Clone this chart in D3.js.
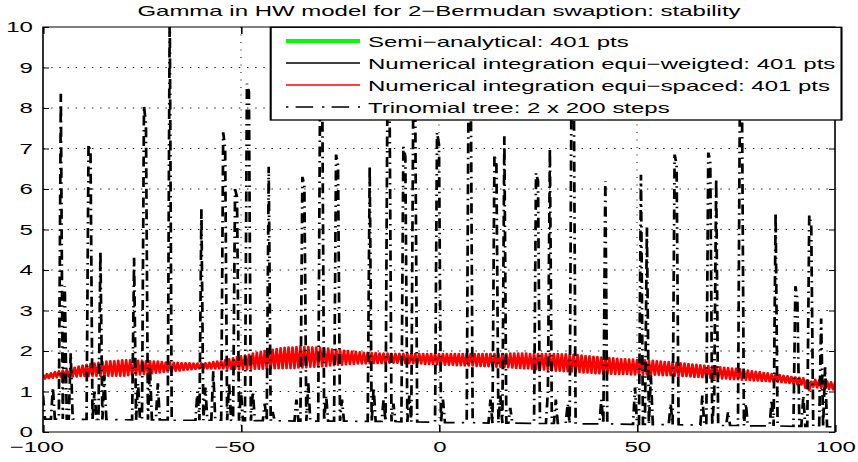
<!DOCTYPE html>
<html>
<head>
<meta charset="utf-8">
<script src="https://cdn.jsdelivr.net/npm/d3@7"></script>
<style>
  html, body { margin: 0; padding: 0; background: #fff; }
  svg { display: block; font-family: "Liberation Sans", Arial, Helvetica, sans-serif; }
</style>
</head>
<body>
<svg id="chart" width="858" height="462"></svg>
<script>
// ---- data -------------------------------------------------------------
const titleText = "Gamma in HW model for 2\u2212Bermudan swaption: stability";
const xTicks = [-100, -50, 0, 50, 100];
const yTicks = [0, 1, 2, 3, 4, 5, 6, 7, 8, 9, 10];

const seriesNames = [
  "Semi\u2212analytical: 401 pts",
  "Numerical integration equi\u2212weigted: 401 pts",
  "Numerical integration equi\u2212spaced: 401 pts",
  "Trinomial tree: 2 x 200 steps"
];

// smooth reference curves, sampled every 5 units of shift
const smoothX = [-100,-95,-90,-85,-80,-75,-70,-65,-60,-55,-50,-45,-40,-35,-30,-25,-20,-15,-10,-5,
                 0,5,10,15,20,25,30,35,40,45,50,55,60,65,70,75,80,85,90,95,100];
const semiAnalytical = [1.36,1.44,1.51,1.56,1.58,1.59,1.60,1.61,1.63,1.66,1.71,1.77,1.82,1.85,1.85,1.84,1.83,1.82,1.82,1.81,
                        1.80,1.79,1.78,1.77,1.76,1.74,1.72,1.69,1.65,1.62,1.60,1.58,1.55,1.51,1.47,1.43,1.38,1.33,1.27,1.20,1.13];
const equiWeighted = [1.35,1.43,1.50,1.55,1.57,1.59,1.60,1.61,1.63,1.66,1.70,1.76,1.81,1.84,1.85,1.84,1.83,1.82,1.82,1.81,
                      1.80,1.79,1.78,1.77,1.75,1.73,1.71,1.68,1.65,1.62,1.60,1.57,1.54,1.50,1.46,1.42,1.37,1.32,1.26,1.19,1.12];

// equi-spaced integration: 401 points on a 0.5 grid from -100 to 100
const equiSpacedX = d3.range(401).map(i => -100 + i * 0.5);
const equiSpaced = [
1.42,1.31,1.44,1.32,1.46,1.33,1.49,1.34,1.51,1.35,
1.53,1.35,1.55,1.36,1.58,1.36,1.60,1.36,1.63,1.37,
1.65,1.37,1.67,1.37,1.69,1.38,1.70,1.38,1.72,1.38,
1.74,1.38,1.75,1.38,1.76,1.38,1.76,1.38,1.77,1.38,
1.78,1.38,1.78,1.39,1.78,1.40,1.77,1.40,1.77,1.41,
1.77,1.42,1.76,1.43,1.76,1.44,1.75,1.45,1.75,1.46,
1.74,1.47,1.73,1.48,1.73,1.49,1.72,1.50,1.72,1.51,
1.71,1.52,1.71,1.53,1.71,1.54,1.70,1.55,1.70,1.56,
1.70,1.56,1.71,1.56,1.72,1.56,1.74,1.56,1.75,1.56,
1.76,1.56,1.78,1.55,1.81,1.55,1.83,1.55,1.86,1.54,
1.88,1.54,1.90,1.54,1.92,1.55,1.95,1.55,1.97,1.55,
1.99,1.55,2.01,1.55,2.03,1.56,2.04,1.56,2.06,1.56,
2.08,1.56,2.09,1.57,2.10,1.57,2.10,1.57,2.11,1.58,
2.12,1.58,2.11,1.59,2.11,1.60,2.10,1.60,2.10,1.61,
2.09,1.61,2.08,1.62,2.07,1.63,2.05,1.64,2.04,1.65,
2.03,1.65,2.02,1.66,2.01,1.67,2.00,1.67,1.99,1.68,
1.98,1.68,1.97,1.68,1.97,1.69,1.96,1.69,1.96,1.69,
1.95,1.69,1.95,1.69,1.95,1.70,1.94,1.70,1.94,1.70,
1.94,1.70,1.94,1.69,1.94,1.69,1.94,1.69,1.94,1.68,
1.94,1.68,1.94,1.67,1.94,1.67,1.94,1.67,1.94,1.66,
1.94,1.66,1.94,1.65,1.94,1.65,1.94,1.65,1.94,1.64,
1.94,1.64,1.94,1.63,1.94,1.63,1.94,1.63,1.94,1.62,
1.94,1.62,1.94,1.61,1.94,1.61,1.94,1.61,1.94,1.60,
1.94,1.60,1.94,1.59,1.94,1.59,1.95,1.58,1.95,1.57,
1.95,1.57,1.95,1.56,1.95,1.56,1.94,1.55,1.94,1.54,
1.94,1.54,1.94,1.53,1.94,1.52,1.94,1.51,1.94,1.50,
1.94,1.50,1.93,1.49,1.93,1.49,1.92,1.48,1.92,1.47,
1.91,1.47,1.90,1.46,1.89,1.46,1.88,1.45,1.87,1.44,
1.86,1.44,1.85,1.43,1.84,1.43,1.84,1.43,1.83,1.42,
1.82,1.42,1.81,1.42,1.81,1.42,1.80,1.41,1.80,1.41,
1.79,1.41,1.78,1.41,1.78,1.41,1.77,1.40,1.77,1.40,
1.76,1.40,1.75,1.39,1.74,1.39,1.74,1.39,1.73,1.38,
1.72,1.38,1.71,1.37,1.70,1.37,1.69,1.36,1.68,1.35,
1.67,1.35,1.66,1.34,1.65,1.34,1.64,1.33,1.63,1.32,
1.62,1.32,1.61,1.31,1.60,1.31,1.59,1.30,1.58,1.29,
1.57,1.29,1.56,1.28,1.54,1.28,1.53,1.27,1.51,1.26,
1.50,1.26,1.49,1.25,1.47,1.25,1.46,1.24,1.44,1.23,
1.43,1.23,1.42,1.22,1.40,1.21,1.39,1.20,1.37,1.19,
1.36,1.17,1.35,1.16,1.34,1.08,1.28,1.02,1.25,1.11,
1.30,1.09,1.29,1.08,1.27,1.07,1.26,1.05,1.24,1.04,
1.23];

// trinomial tree gamma (shift, gamma)
const treeX = [-100,-99.5,-98,-97.5,-97,-96,-95.5,-95,-94.5,-94,-93.5,-93,-92.5,-89,-88.5,-88,-87.5,-87,-86.5,-86,
  -85.5,-85,-84.5,-84,-77.5,-77,-76.5,-76,-75.5,-75,-74.5,-74,-73.5,-73,-72.5,-71.5,-71,-70.5,-68.5,-68,
  -67.5,-61.5,-61,-60.5,-60,-59.5,-59,-58.5,-57.5,-57,-56.5,-55,-54.5,-54,-53.5,-53,-52.5,-52,-51.5,-51,
  -50.5,-50,-49.5,-49,-48.5,-48,-47.5,-47,-46.5,-44.5,-44,-43.5,-43,-42.5,-42,-41.5,-36.5,-36,-35.5,-35,
  -34.5,-34,-33.5,-33,-32.5,-30.5,-30,-29.5,-29,-28.5,-28,-26.5,-26,-25.5,-25,-24.5,-24,-18,-17.5,-17,
  -16.5,-16,-14.5,-14,-13.5,-13,-12.5,-12,-11.5,-11,-9.5,-9,-8.5,-8,-7.5,-7,-6.5,-6,-5.5,-1,
  -0.5,0,0.5,1,1.5,7,7.5,8,8.5,12.5,13,13.5,14,14.5,15,15.5,16,16.5,17,17.5,
  18,18.5,24,24.5,25,25.5,27,27.5,28,28.5,29,29.5,30,32,32.5,33,33.5,34,34.5,40.5,
  41,41.5,42,42.5,49,49.5,50,50.5,51,51.5,52,52.5,53,53.5,54,58,58.5,59,59.5,60,
  60.5,66,66.5,67,67.5,68,68.5,69,69.5,70,70.5,72.5,73,73.5,75.5,76,76.5,77,77.5,78,
  83.5,84,84.5,85,85.5,89.5,90,90.5,91,91.5,92,92.5,93,93.5,94,94.5,96,96.5,97,97.5,
  98,100];
const treeY = [0.9,0.32,0.32,1.1,0.32,0.32,8.35,0.32,3.6,0.32,0.32,1.95,0.32,0.31,7.1,6.9,0.31,1.0,0.31,0.31,
  4.45,0.31,1.4,0.31,0.3,4.3,0.3,1.2,0.3,0.3,8.05,7.6,0.3,1.6,0.3,0.3,1.2,0.3,0.3,10.5,
  0.29,0.29,1.0,0.29,5.5,0.29,1.1,0.29,0.29,1.5,0.29,0.29,7.4,7.0,0.29,1.2,0.29,0.29,6.0,5.8,
  0.28,1.0,0.28,0.28,8.6,8.4,0.28,1.0,0.28,0.28,0.7,0.28,6.55,0.28,0.5,0.28,0.27,0.8,0.27,0.27,
  6.3,6.1,0.27,1.2,0.27,0.27,9.0,8.7,0.27,0.9,0.27,0.27,6.85,6.6,0.27,0.8,0.27,0.26,6.55,0.26,
  1.1,0.26,0.26,0.8,0.26,8.8,8.5,0.26,0.7,0.26,0.25,7.05,6.8,0.25,0.9,0.25,8.2,8.0,0.25,0.24,
  7.4,7.1,0.24,0.8,0.23,0.23,9.3,9.1,0.23,0.22,0.8,0.22,6.85,6.6,0.22,0.9,0.22,7.3,0.22,0.22,
  0.6,0.22,0.21,6.4,6.2,0.21,0.21,1.0,7.0,0.21,0.21,0.8,0.21,0.21,0.7,0.2,9.6,9.4,0.2,0.2,
  0.8,0.2,6.2,0.2,0.19,1.1,0.19,0.19,6.35,0.19,0.19,5.05,0.19,1.4,0.18,0.18,0.7,0.18,6.85,6.6,
  0.18,0.17,0.9,0.17,0.17,6.9,6.7,0.17,0.9,6.25,0.16,0.16,0.5,0.16,0.16,8.6,8.4,0.16,0.7,0.15,
  0.15,0.8,0.15,5.4,0.15,0.14,3.6,3.3,0.14,0.14,0.9,0.14,0.14,5.35,5.1,0.13,0.13,2.8,0.13,1.6,
  0.13,0.13];

// ---- layout -------------------------------------------------------------
// the figure is drawn in a narrow frame and widened horizontally
const S = 1.6;
const fontSize = 15;
const plot = { left: 43 / S, right: 835 / S, top: 27, bottom: 432 };

const svg = d3.select("#chart");
const root = svg.append("g").attr("transform", `scale(${S},1)`);

const x = d3.scaleLinear().domain([-100, 100]).range([plot.left, plot.right]);
const y = d3.scaleLinear().domain([0, 10]).range([plot.bottom, plot.top]);

root.append("defs").append("clipPath").attr("id", "plot-clip")
  .append("rect")
  .attr("x", plot.left).attr("y", plot.top)
  .attr("width", plot.right - plot.left).attr("height", plot.bottom - plot.top);

// ---- grid -------------------------------------------------------------
const grid = root.append("g").attr("stroke", "#222").attr("fill", "none");
grid.selectAll("line.h").data(yTicks.slice(1, -1)).join("line")
  .attr("class", "h")
  .attr("x1", plot.left).attr("x2", plot.right)
  .attr("y1", d => y(d)).attr("y2", d => y(d))
  .attr("stroke-width", 0.9)
  .attr("stroke-dasharray", "0.9,4.2");
grid.selectAll("line.v").data(xTicks.slice(1, -1)).join("line")
  .attr("class", "v")
  .attr("x1", d => x(d)).attr("x2", d => x(d))
  .attr("y1", plot.top).attr("y2", plot.bottom)
  .attr("stroke-width", 0.7)
  .attr("stroke-dasharray", "1,6.5");

// ---- series -------------------------------------------------------------
const layer = root.append("g").attr("clip-path", "url(#plot-clip)").attr("fill", "none");

const smoothLine = d3.line().x((d, i) => x(smoothX[i])).y(d => y(d)).curve(d3.curveMonotoneX);

layer.append("path").datum(semiAnalytical)
  .attr("d", smoothLine)
  .attr("stroke", "#00ff00").attr("stroke-width", 4);

layer.append("path").datum(equiWeighted)
  .attr("d", smoothLine)
  .attr("stroke", "#000").attr("stroke-width", 1.2);

layer.append("path").datum(equiSpaced)
  .attr("d", d3.line().x((d, i) => x(equiSpacedX[i])).y(d => y(d)))
  .attr("stroke", "#ff0000").attr("stroke-width", 1.6).attr("stroke-linejoin", "round");

layer.append("path").datum(treeY)
  .attr("d", d3.line().x((d, i) => x(treeX[i])).y(d => y(d)))
  .attr("stroke", "#000").attr("stroke-width", 1.7)
  .attr("stroke-dasharray", "10,4.5,1.5,4.5");

// ---- axes -------------------------------------------------------------
function styleAxis(g) {
  g.select(".domain").remove();
  g.selectAll(".tick line").attr("stroke", "#000").attr("stroke-width", 1);
  g.selectAll(".tick text")
    .attr("font-family", '"Liberation Sans", Arial, Helvetica, sans-serif')
    .attr("font-size", fontSize).attr("fill", "#000");
}

const xAxis = root.append("g")
  .attr("transform", `translate(0,${plot.bottom})`)
  .call(d3.axisBottom(x).tickValues(xTicks).tickSizeInner(-7).tickSizeOuter(0).tickPadding(9.5))
  .call(styleAxis);
xAxis.selectAll(".tick text").attr("dx", d => d < 0 ? -4.4 : 0);

root.append("g")
  .attr("transform", `translate(0,${plot.top})`)
  .call(d3.axisTop(x).tickValues(xTicks).tickSizeInner(-7).tickSizeOuter(0).tickFormat(""))
  .call(styleAxis);

root.append("g")
  .attr("transform", `translate(${plot.left},0)`)
  .call(d3.axisLeft(y).tickValues(yTicks).tickSizeInner(-3.75).tickSizeOuter(0).tickPadding(6.3)
        .tickFormat(d3.format("d")))
  .call(styleAxis);

root.append("g")
  .attr("transform", `translate(${plot.right},0)`)
  .call(d3.axisRight(y).tickValues(yTicks).tickSizeInner(-3.75).tickSizeOuter(0).tickFormat(""))
  .call(styleAxis);

root.append("rect")
  .attr("x", plot.left).attr("y", plot.top)
  .attr("width", plot.right - plot.left).attr("height", plot.bottom - plot.top)
  .attr("fill", "none").attr("stroke", "#000").attr("stroke-width", 1);

// ---- title -------------------------------------------------------------
root.append("text")
  .attr("x", (plot.left + plot.right) / 2).attr("y", 16.5)
  .attr("text-anchor", "middle")
  .attr("font-size", fontSize)
  .text(titleText);

// ---- legend -------------------------------------------------------------
const legendBox = { left: 270.7 / S, right: 841.5 / S, top: 27.3, bottom: 120 };
const legend = root.append("g");
legend.append("rect")
  .attr("x", legendBox.left).attr("y", legendBox.top)
  .attr("width", legendBox.right - legendBox.left).attr("height", legendBox.bottom - legendBox.top)
  .attr("fill", "#fff").attr("stroke", "#000").attr("stroke-width", 1.3);

const legendStyles = [
  { stroke: "#00ff00", width: 4, dash: null },
  { stroke: "#000", width: 1.5, dash: null },
  { stroke: "#ff0000", width: 1.5, dash: null },
  { stroke: "#000", width: 1.5, dash: "1.5,4.5,11,5.5" }
];
const rowY = d3.scaleLinear().domain([0, 3]).range([41, 107]);
const rows = legend.selectAll("g.row").data(seriesNames).join("g").attr("class", "row")
  .attr("transform", (d, i) => `translate(0,${rowY(i)})`);
rows.append("line")
  .attr("x1", 286 / S).attr("x2", 360 / S)
  .attr("stroke", (d, i) => legendStyles[i].stroke)
  .attr("stroke-width", (d, i) => legendStyles[i].width)
  .attr("stroke-dasharray", (d, i) => legendStyles[i].dash);
rows.append("text")
  .attr("x", 368 / S).attr("y", 5.5)
  .attr("font-size", fontSize)
  .text(d => d);
</script>
</body>
</html>
